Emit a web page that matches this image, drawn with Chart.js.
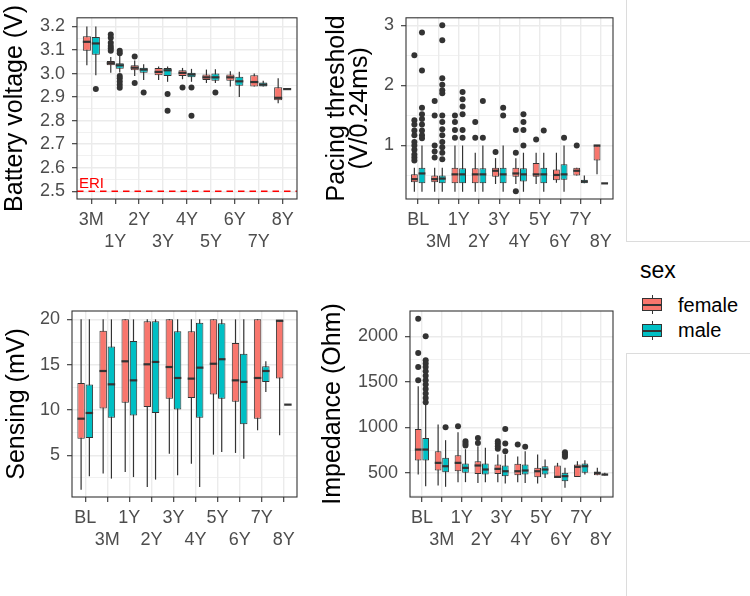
<!DOCTYPE html>
<html>
<head>
<meta charset="utf-8">
<script src="https://cdn.jsdelivr.net/npm/chart.js@4/dist/chart.umd.min.js"></script>
<style>
  body { margin:0; background:#fff; width:750px; height:596px; position:relative; overflow:hidden;
         font-family:'Liberation Sans', Arial, sans-serif; }
  canvas { position:absolute; }
  .frame { position:absolute; background:#dcdcdc; }
  .txt { position:absolute; white-space:nowrap; color:#000; }
  .key { position:absolute; width:20px; height:19px; }
  .key .wh { position:absolute; left:9.5px; top:0; width:1px; height:19px; background:#333; }
  .key .bx { position:absolute; left:0; top:3px; width:18px; height:11px; border:1px solid #333; }
  .key .md { position:absolute; left:0; top:8.5px; width:20px; height:2px; background:#333; }
</style>
</head>
<body>
<canvas id="c1" width="310" height="262" style="left:0;top:0"></canvas>
<canvas id="c2" width="316" height="262" style="left:310px;top:0"></canvas>
<canvas id="c3" width="310" height="267" style="left:0;top:290px"></canvas>
<canvas id="c4" width="316" height="267" style="left:310px;top:290px"></canvas>

<div class="frame" style="left:626px;top:0;width:1px;height:241px"></div>
<div class="frame" style="left:626px;top:241px;width:124px;height:1px"></div>
<div class="frame" style="left:626px;top:353px;width:124px;height:1px"></div>
<div class="frame" style="left:626px;top:353px;width:1px;height:243px"></div>

<div class="txt" style="left:640px;top:257px;font-size:23px;line-height:26px">sex</div>
<div class="key" style="left:642px;top:295px"><div class="wh"></div><div class="bx" style="background:#F8766D"></div><div class="md"></div></div>
<div class="txt" style="left:678px;top:293px;font-size:20px;line-height:24px">female</div>
<div class="key" style="left:642px;top:321px"><div class="wh"></div><div class="bx" style="background:#00BFC4"></div><div class="md"></div></div>
<div class="txt" style="left:678px;top:318px;font-size:20px;line-height:24px">male</div>

<script>
// ---------- data ----------
// each box: [lower whisker, Q1, median, Q3, upper whisker]
const battCats = ['3M','1Y','2Y','3Y','4Y','5Y','6Y','7Y','8Y'];
const battFemale = [
  [3.035, 3.097, 3.135, 3.159, 3.2],
  [3.004, 3.035, 3.044, 3.053, 3.07],
  [2.99, 3.014, 3.025, 3.035, 3.056],
  [2.973, 2.993, 3.007, 3.024, 3.03],
  [2.976, 2.99, 3.003, 3.014, 3.024],
  [2.96, 2.973, 2.984, 2.996, 3.017],
  [2.945, 2.97, 2.984, 2.996, 3.01],
  [2.945, 2.945, 2.964, 2.993, 3.0],
  [2.874, 2.887, 2.897, 2.942, 2.98]
];
const battMale = [
  [2.993, 3.08, 3.128, 3.155, 3.2],
  [3.005, 3.021, 3.035, 3.044, 3.076],
  [2.973, 3.003, 3.017, 3.025, 3.04],
  [2.965, 2.99, 3.014, 3.024, 3.03],
  [2.965, 2.984, 2.996, 3.003, 3.02],
  [2.96, 2.97, 2.984, 3.0, 3.018],
  [2.9, 2.948, 2.967, 2.986, 3.008],
  [2.945, 2.945, 2.953, 2.962, 2.97],
  [2.934, 2.934, 2.934, 2.934, 2.934]
];
const battFemaleOut = [[], [3.166, 3.152, 3.131, 3.117, 3.108, 3.097], [3.073, 2.96], [], [2.941], [], [], [], []];
const battMaleOut = [[2.934], [3.097, 3.086, 2.99, 2.98, 2.966, 2.952, 2.94], [2.92], [2.913, 2.842], [2.941, 2.821], [2.92], [], [], []];
const battTicks = [2.5, 2.6, 2.7, 2.8, 2.9, 3.0, 3.1, 3.2];
const battTickLabels = ['2.5', '2.6', '2.7', '2.8', '2.9', '3.0', '3.1', '3.2'];
const battMinor = [2.55, 2.65, 2.75, 2.85, 2.95, 3.05, 3.15];
const eriLevel = 2.5;
const eriLabel = 'ERI';

const timeCats = ['BL','3M','1Y','2Y','3Y','4Y','5Y','6Y','7Y','8Y'];

const paceFemale = [
  [0.23, 0.39, 0.44, 0.52, 0.63],
  [0.23, 0.39, 0.44, 0.5, 0.63],
  [0.23, 0.37, 0.52, 0.63, 1.0],
  [0.23, 0.37, 0.52, 0.62, 0.88],
  [0.36, 0.48, 0.58, 0.63, 0.79],
  [0.36, 0.48, 0.535, 0.63, 0.79],
  [0.36, 0.48, 0.52, 0.71, 0.88],
  [0.38, 0.42, 0.51, 0.6, 0.88],
  [0.5, 0.5, 0.58, 0.63, 0.63],
  [0.52, 0.75, 1.0, 1.0, 1.0]
];
const paceMale = [
  [0.23, 0.37, 0.535, 0.63, 1.0],
  [0.23, 0.37, 0.45, 0.5, 0.63],
  [0.23, 0.37, 0.52, 0.62, 1.0],
  [0.23, 0.37, 0.52, 0.62, 1.0],
  [0.23, 0.37, 0.52, 0.63, 1.0],
  [0.23, 0.4, 0.52, 0.62, 0.88],
  [0.23, 0.37, 0.52, 0.63, 0.88],
  [0.23, 0.43, 0.52, 0.69, 1.0],
  [0.37, 0.37, 0.4, 0.43, 0.5],
  [0.37, 0.37, 0.37, 0.37, 0.37]
];
const paceFemaleOut = [
  [2.5, 1.42, 1.35, 1.25, 1.17, 1.06, 1.0, 0.93, 0.85, 0.8, 0.75],
  [1.74, 1.5, 1.0, 0.9, 0.8],
  [1.5, 1.39, 1.26, 1.13],
  [1.39, 1.13],
  [0.89],
  [1.26, 0.88, 0.24],
  [1.1],
  [],
  [1.0],
  []
];
const paceMaleOut = [
  [2.88, 2.25, 1.63, 1.52, 1.44, 1.35, 1.25, 1.17, 1.12],
  [3.0, 2.75, 2.12, 2.01, 1.92, 1.87, 1.5, 1.39, 1.27, 1.17, 1.06, 0.97, 0.88, 0.77],
  [1.89, 1.77, 1.65, 1.52, 1.26, 1.13],
  [1.74, 1.13],
  [1.63, 1.5],
  [1.52, 1.39, 1.26, 1.0],
  [1.25],
  [1.13],
  [],
  []
];
const paceTicks = [1, 2, 3];
const paceTickLabels = ['1', '2', '3'];
const paceMinor = [0.5, 1.5, 2.5];

const senseFemale = [
  [1.21, 6.84, 9.04, 12.98, 20],
  [2.98, 10.15, 14.3, 18.75, 20],
  [3.16, 10.8, 15.37, 20, 20],
  [1.5, 10.33, 15.04, 19.8, 20],
  [5.18, 11.25, 14.74, 20, 20],
  [4.08, 11.32, 13.46, 18.68, 20],
  [5.07, 11.7, 15.1, 20, 20],
  [5.26, 10.9, 13.27, 17.4, 20],
  [7.76, 9.04, 13.53, 20, 20],
  [7.2, 13.46, 19.85, 19.85, 19.85]
];
const senseMale = [
  [2.68, 6.9, 9.67, 12.8, 20],
  [2.43, 9.15, 12.83, 17.0, 20],
  [2.6, 9.4, 13.27, 17.6, 20],
  [2.32, 9.67, 15.3, 19.8, 20],
  [2.8, 10.04, 13.53, 18.68, 20],
  [1.5, 9.15, 14.67, 19.63, 20],
  [5.37, 11.25, 15.6, 19.56, 20],
  [4.63, 8.42, 13.1, 16.2, 20],
  [11.99, 13.09, 14.3, 14.82, 15.37],
  [10.59, 10.59, 10.59, 10.59, 10.59]
];
const senseFemaleOut = [[], [], [], [], [], [], [], [], [], []];
const senseMaleOut = [[], [], [], [], [], [], [], [], [], []];
const senseTicks = [5, 10, 15, 20];
const senseTickLabels = ['5', '10', '15', '20'];
const senseMinor = [2.5, 7.5, 12.5, 17.5];

const impFemale = [
  [482, 636, 756, 983, 1451],
  [361, 526, 610, 738, 1031],
  [398, 518, 610, 694, 947],
  [390, 489, 581, 628, 793],
  [398, 489, 544, 592, 701],
  [398, 475, 518, 599, 680],
  [383, 453, 518, 555, 701],
  [445, 445, 456, 581, 610],
  [456, 456, 566, 592, 628],
  [475, 475, 500, 511, 555]
];
const impMale = [
  [354, 636, 756, 884, 1250],
  [347, 508, 573, 665, 859],
  [398, 500, 555, 603, 760],
  [398, 482, 537, 603, 775],
  [383, 464, 518, 581, 701],
  [390, 482, 526, 592, 738],
  [445, 482, 537, 573, 646],
  [336, 409, 464, 500, 555],
  [482, 500, 573, 603, 639],
  [471, 471, 482, 482, 500]
];
const impFemaleOut = [[2194, 1817, 1663, 1517], [], [1012], [884, 829], [848, 822, 793, 764], [811], [], [], [], []];
const impMaleOut = [[2000, 1737, 1700, 1663, 1616, 1568, 1517, 1470, 1422, 1371, 1323, 1276], [1001], [848, 822, 800], [], [983, 822, 738], [786], [], [727, 701, 676], [], []];
const impTicks = [500, 1000, 1500, 2000];
const impTickLabels = ['500', '1000', '1500', '2000'];
const impMinor = [250, 750, 1250, 1750];

const sexLabels = ['female', 'male'];

// ---------- styling ----------
const FONT = "'Liberation Sans', Arial, sans-serif";
const FEMALE = '#F8766D', MALE = '#00BFC4', INK = '#333333', GRID = '#EBEBEB', TICKTXT = '#4D4D4D';

const boxParts = {
  id: 'boxParts',
  beforeDatasetsDraw(chart) {
    const {ctx, scales: {y}} = chart;
    ctx.save();
    ctx.strokeStyle = INK; ctx.lineWidth = 1.2;
    chart.data.datasets.forEach((ds, di) => {
      const meta = chart.getDatasetMeta(di);
      ds.stats.forEach((s, i) => {
        const el = meta.data[i];
        ctx.beginPath();
        ctx.moveTo(el.x, y.getPixelForValue(s[0]));
        ctx.lineTo(el.x, y.getPixelForValue(s[4]));
        ctx.stroke();
      });
    });
    ctx.restore();
  },
  afterDatasetsDraw(chart) {
    const {ctx, scales: {y}} = chart;
    ctx.save();
    chart.data.datasets.forEach((ds, di) => {
      const meta = chart.getDatasetMeta(di);
      ds.stats.forEach((s, i) => {
        const el = meta.data[i];
        const py = y.getPixelForValue(s[2]);
        ctx.strokeStyle = INK; ctx.lineWidth = 2.2;
        ctx.beginPath();
        ctx.moveTo(el.x - el.width / 2, py);
        ctx.lineTo(el.x + el.width / 2, py);
        ctx.stroke();
        ctx.fillStyle = INK;
        (ds.outliers[i] || []).forEach(v => {
          ctx.beginPath();
          ctx.arc(el.x, y.getPixelForValue(v), 3, 0, Math.PI * 2);
          ctx.fill();
        });
      });
    });
    ctx.restore();
  },
  afterDraw(chart) {
    const {ctx, chartArea: a} = chart;
    ctx.save();
    ctx.strokeStyle = INK; ctx.lineWidth = 1.1;
    ctx.strokeRect(a.left, a.top, a.right - a.left, a.bottom - a.top);
    ctx.restore();
  }
};

const eriLine = {
  id: 'eriLine',
  afterDatasetsDraw(chart) {
    const {ctx, chartArea: a, scales: {y}} = chart;
    const py = y.getPixelForValue(eriLevel);
    ctx.save();
    ctx.strokeStyle = '#FF0000'; ctx.lineWidth = 1.3;
    ctx.setLineDash([6.5, 5]);
    ctx.beginPath(); ctx.moveTo(a.left, py); ctx.lineTo(a.right, py); ctx.stroke();
    ctx.setLineDash([]);
    ctx.fillStyle = '#FF0000';
    ctx.font = '15px ' + FONT;
    ctx.textAlign = 'left'; ctx.textBaseline = 'alphabetic';
    ctx.fillText(eriLabel, a.left + 2, py - 3);
    ctx.restore();
  }
};

function panel(id, cfg) {
  const majors = cfg.ticks;
  const idxOf = v => majors.findIndex(m => Math.abs(m - v) < 1e-9);
  const isMajor = c => c.tick && idxOf(c.tick.value) >= 0;
  const allTicks = majors.concat(cfg.minor).sort((a, b) => a - b);
  const n = cfg.cats.length;
  return new Chart(document.getElementById(id), {
    type: 'bar',
    data: {
      labels: cfg.cats,
      datasets: [
        { label: sexLabels[0], data: cfg.female.map(s => [s[1], s[3]]), stats: cfg.female, outliers: cfg.femaleOut,
          backgroundColor: FEMALE, borderColor: INK, borderWidth: 1, borderSkipped: false },
        { label: sexLabels[1], data: cfg.male.map(s => [s[1], s[3]]), stats: cfg.male, outliers: cfg.maleOut,
          backgroundColor: MALE, borderColor: INK, borderWidth: 1, borderSkipped: false }
      ]
    },
    options: {
      responsive: false, animation: false, events: [],
      layout: { padding: { top: cfg.padTop, right: cfg.padRight, left: 0, bottom: 0 } },
      datasets: { bar: { categoryPercentage: 0.75, barPercentage: 0.9 } },
      plugins: { legend: { display: false }, tooltip: { enabled: false } },
      scales: {
        x: {
          grid: { offset: false, color: GRID, lineWidth: 1.4, tickColor: INK, tickLength: 5, tickWidth: 1.1 },
          border: { display: false },
          ticks: { autoSkip: false, maxRotation: 0, minRotation: 0, color: TICKTXT, padding: 5,
                   font: { family: FONT, size: 18, lineHeight: 1.22 },
                   callback: (v, i) => i % 2 === 0 ? [cfg.cats[i], ''] : ['', cfg.cats[i]] },
          afterFit: s => { s.height = cfg.xHeight; s._startValue = -0.6; s._valueRange = n + 0.2; }
        },
        y: {
          min: cfg.yMin, max: cfg.yMax,
          afterBuildTicks: s => { s.ticks = allTicks.map(v => ({ value: v })); },
          afterFit: s => { s.width = cfg.yWidth; },
          grid: { color: GRID, lineWidth: c => isMajor(c) ? 1.4 : 0.7,
                  tickColor: c => isMajor(c) ? INK : 'rgba(0,0,0,0)', tickLength: 5, tickWidth: 1.1 },
          border: { display: false },
          ticks: { autoSkip: false, color: TICKTXT, padding: 7, font: { family: FONT, size: 18 },
                   callback: v => { const k = idxOf(v); return k >= 0 ? cfg.tickLabels[k] : ''; } },
          title: { display: true, text: cfg.title, color: '#000',
                   font: { family: FONT, size: 25, lineHeight: cfg.titleLH },
                   padding: { top: cfg.titlePad, bottom: 0 } }
        }
      }
    },
    plugins: [boxParts].concat(cfg.extra || [])
  });
}

panel('c1', { cats: battCats, female: battFemale, male: battMale, femaleOut: battFemaleOut, maleOut: battMaleOut,
  ticks: battTicks, tickLabels: battTickLabels, minor: battMinor, yMin: 2.467, yMax: 3.237,
  title: 'Battery voltage (V)', titleLH: 1.1, titlePad: 1, yWidth: 77, padTop: 13, padRight: 13, xHeight: 63,
  extra: [eriLine] });

panel('c2', { cats: timeCats, female: paceFemale, male: paceMale, femaleOut: paceFemaleOut, maleOut: paceMaleOut,
  ticks: paceTicks, tickLabels: paceTickLabels, minor: paceMinor, yMin: 0.11, yMax: 3.125,
  title: ['Pacing threshold', '(V/0.24ms)'], titleLH: 0.92, titlePad: 15.5, yWidth: 96, padTop: 13, padRight: 13, xHeight: 63 });

panel('c3', { cats: timeCats, female: senseFemale, male: senseMale, femaleOut: senseFemaleOut, maleOut: senseMaleOut,
  ticks: senseTicks, tickLabels: senseTickLabels, minor: senseMinor, yMin: 0.4, yMax: 20.92,
  title: 'Sensing (mV)', titleLH: 1.1, titlePad: 3, yWidth: 72, padTop: 21, padRight: 13, xHeight: 60 });

panel('c4', { cats: timeCats, female: impFemale, male: impMale, femaleOut: impFemaleOut, maleOut: impMaleOut,
  ticks: impTicks, tickLabels: impTickLabels, minor: impMinor, yMin: 235, yMax: 2278,
  title: 'Impedance (Ohm)', titleLH: 1.1, titlePad: 9, yWidth: 100, padTop: 21, padRight: 13, xHeight: 60 });
</script>
</body>
</html>
